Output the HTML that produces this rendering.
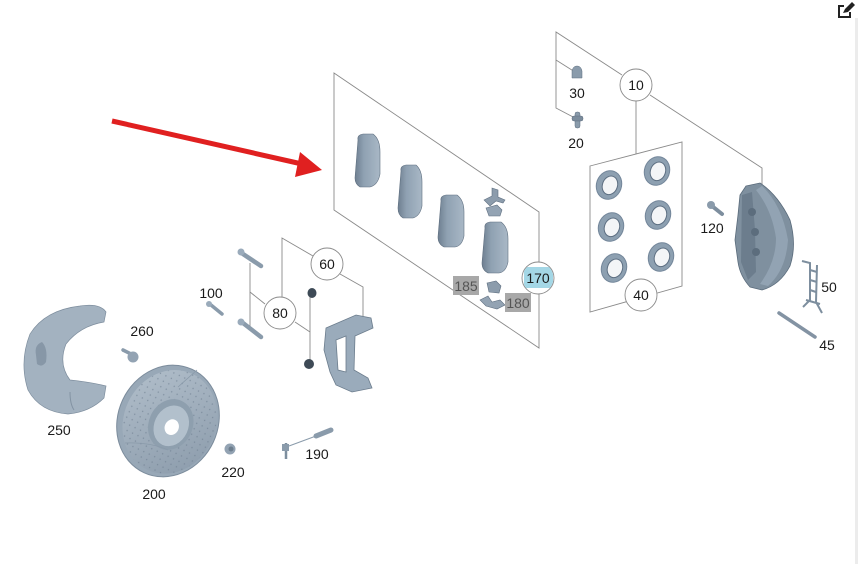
<!DOCTYPE html>
<html><head><meta charset="utf-8"><style>
html,body{margin:0;padding:0;background:#fff;}
body{width:858px;height:564px;overflow:hidden;position:relative;}
svg{position:absolute;left:0;top:0;}
text{font-family:"Liberation Sans",sans-serif;font-size:14px;fill:#1a1a1a;}
</style></head><body>
<svg width="858" height="564" viewBox="0 0 858 564" xmlns="http://www.w3.org/2000/svg">
<defs>
<linearGradient id="pg" x1="0" y1="0" x2="1" y2="0">
<stop offset="0" stop-color="#6e7f90"/><stop offset="0.35" stop-color="#8fa1b2"/><stop offset="1" stop-color="#a9b8c6"/>
</linearGradient>
<linearGradient id="dg" x1="0" y1="0" x2="1" y2="1">
<stop offset="0" stop-color="#b3c0cc"/><stop offset="1" stop-color="#8a9aaa"/>
</linearGradient>
<pattern id="dots" width="6" height="6" patternUnits="userSpaceOnUse">
<circle cx="3" cy="3" r="0.7" fill="#6f8091"/>
</pattern>
<clipPath id="c170"><circle cx="538" cy="278" r="15.5"/></clipPath>
</defs>
<rect x="855" y="18" width="3" height="546" fill="#ececec"/>

<!-- edit icon -->
<g transform="translate(836,2)" fill="none" stroke="#222" stroke-width="2">
<path d="M8,4 H3 V15 H14 V10"/>
</g>
<path d="M843,13 L845,9 L852,2 L855,5 L848,12 Z" fill="#222"/>

<!-- red arrow -->
<line x1="112" y1="121" x2="302" y2="164" stroke="#e02020" stroke-width="5"/>
<polygon points="322,170 300,152 295,177" fill="#e02020"/>

<!-- lines -->
<g fill="none" stroke="#8a8a8a" stroke-width="0.9">
<polygon points="334,73 539,212 539,348 334,210"/>
<polyline points="622,75 556,32 556,108 575,118"/>
<line x1="556" y1="60" x2="575" y2="72"/>
<line x1="636" y1="101" x2="636" y2="154"/>
<polygon points="590,166 682,142 682,286 590,312"/>
<polyline points="650,95 762,168 762,185"/>
<polyline points="282,297 282,238 313,256"/>
<polyline points="340,274 363,287 363,317"/>
<line x1="250" y1="263" x2="250" y2="330"/>
<line x1="250" y1="292" x2="265" y2="304"/>
<polyline points="295,322 310,332"/>
<line x1="310" y1="295" x2="310" y2="362"/>
</g>

<!-- pads -->
<g stroke="#5f6f80" stroke-width="0.6">
<path d="M358,140 Q357,135 363,134 L373,134 Q380,139 380,152 L380,174 Q378,185 370,187 L360,187 Q355,184 355,178 Z" fill="url(#pg)"/>
<path d="M401,171 Q400,166 406,165 L416,165 Q422,170 422,182 L422,206 Q420,216 413,218 L403,218 Q398,215 398,208 Z" fill="url(#pg)"/>
<path d="M441,201 Q440,196 446,195 L457,195 Q464,200 464,212 L464,236 Q462,246 455,247 L444,247 Q438,244 438,237 Z" fill="url(#pg)"/>
<path d="M485,228 Q484,223 490,222 L501,222 Q508,227 508,239 L508,262 Q506,272 499,273 L488,273 Q482,270 482,263 Z" fill="url(#pg)"/>
<path d="M484,200 L492,196 L492,188 L498,190 L498,197 L505,200 L503,203 L496,201 L490,206 Z" fill="#8c9cac"/>
<path d="M486,208 L497,205 L502,210 L500,216 L489,216 Z" fill="#93a3b3"/>
<path d="M487,283 L496,281 L501,286 L499,293 L489,292 Z" fill="#8c9cac"/>
<path d="M480,300 L488,296 L492,302 L500,300 L505,305 L497,309 L486,306 Z" fill="#93a3b3"/>
</g>

<!-- small parts group 10 -->
<g stroke="#5f6f80" stroke-width="0.5">
<path d="M572,78 L572,71 Q573,66 577,66 Q581,66 582,71 L582,78 Z" fill="#8a9bab"/>
<rect x="575" y="112" width="5" height="16" rx="2" fill="#8a9bab"/>
<rect x="572" y="116" width="11" height="5" rx="2" fill="#7b8c9c"/>
</g>

<!-- seals -->
<g>
<g transform="translate(609,185) rotate(20)"><ellipse rx="13" ry="15" fill="#73869a"/><ellipse rx="12" ry="14" fill="#8da0b1"/><ellipse cx="1" cy="0" rx="7.5" ry="9.5" fill="#f3f5f7" stroke="#5d6f82"/></g>
<g transform="translate(657,171) rotate(20)"><ellipse rx="13" ry="15" fill="#73869a"/><ellipse rx="12" ry="14" fill="#8da0b1"/><ellipse cx="1" cy="0" rx="7.5" ry="9.5" fill="#f3f5f7" stroke="#5d6f82"/></g>
<g transform="translate(611,227) rotate(20)"><ellipse rx="13" ry="15" fill="#73869a"/><ellipse rx="12" ry="14" fill="#8da0b1"/><ellipse cx="1" cy="0" rx="7.5" ry="9.5" fill="#f3f5f7" stroke="#5d6f82"/></g>
<g transform="translate(658,215) rotate(20)"><ellipse rx="13" ry="15" fill="#73869a"/><ellipse rx="12" ry="14" fill="#8da0b1"/><ellipse cx="1" cy="0" rx="7.5" ry="9.5" fill="#f3f5f7" stroke="#5d6f82"/></g>
<g transform="translate(614,268) rotate(20)"><ellipse rx="13" ry="15" fill="#73869a"/><ellipse rx="12" ry="14" fill="#8da0b1"/><ellipse cx="1" cy="0" rx="7.5" ry="9.5" fill="#f3f5f7" stroke="#5d6f82"/></g>
<g transform="translate(661,257) rotate(20)"><ellipse rx="13" ry="15" fill="#73869a"/><ellipse rx="12" ry="14" fill="#8da0b1"/><ellipse cx="1" cy="0" rx="7.5" ry="9.5" fill="#f3f5f7" stroke="#5d6f82"/></g>
</g>

<!-- caliper -->
<path d="M746,186 L760,183 Q778,195 790,220 Q797,245 790,266 Q780,285 762,290 L750,287 Q740,276 738,262 L735,240 L738,215 L740,195 Z" fill="#7f909f" stroke="#5a6b7b" stroke-width="0.8"/>
<path d="M762,186 Q782,205 788,240 Q786,270 768,286 L760,284 Q776,262 776,238 Q772,210 756,190 Z" fill="#92a3b3"/>
<path d="M742,195 L752,192 L755,230 L756,272 L748,280 L741,262 Z" fill="#6c7d8d"/>
<circle cx="752" cy="212" r="4" fill="#5c6d7d"/><circle cx="755" cy="232" r="4" fill="#5c6d7d"/><circle cx="756" cy="252" r="4" fill="#5c6d7d"/>
<line x1="712" y1="206" x2="722" y2="214" stroke="#7d8e9e" stroke-width="4" stroke-linecap="round"/>
<circle cx="711" cy="205" r="4" fill="#8a9bab"/>
<g stroke="#7d8e9e" stroke-width="2" fill="none">
<polyline points="802,261 810,263 810,300 803,307"/>
<polyline points="817,265 816,302 822,313"/>
<line x1="810" y1="270" x2="817" y2="272"/><line x1="810" y1="280" x2="817" y2="282"/><line x1="810" y1="290" x2="816" y2="292"/>
<line x1="806" y1="300" x2="820" y2="304"/>
</g>
<line x1="779" y1="313" x2="815" y2="337" stroke="#8393a3" stroke-width="3.5" stroke-linecap="round"/>

<!-- bolts 60/80 group -->
<g stroke-linecap="round">
<line x1="243" y1="254" x2="261" y2="266" stroke="#8a9bab" stroke-width="4.5"/>
<circle cx="241" cy="252" r="3.5" fill="#9aabbb"/>
<line x1="243" y1="323" x2="261" y2="337" stroke="#8a9bab" stroke-width="4.5"/>
<circle cx="241" cy="322" r="3.5" fill="#9aabbb"/>
<line x1="211" y1="305" x2="222" y2="314" stroke="#8a9bab" stroke-width="3.5"/>
<circle cx="209" cy="304" r="3" fill="#9aabbb"/>
</g>
<ellipse cx="312" cy="293" rx="4.5" ry="5" fill="#3e4a56"/>
<ellipse cx="309" cy="364" rx="5" ry="5" fill="#3e4a56"/>
<path fill-rule="evenodd" d="M326,328 L356,315 L371,318 L373,328 L355,336 L354,370 L368,378 L372,388 L352,392 L336,385 L330,372 L324,350 Z M336,340 L346,336 L346,372 L338,370 Z" fill="#9aabbb" stroke="#6c7d8d" stroke-width="0.8"/>
<line x1="286" y1="443" x2="286" y2="459" stroke="#7d8e9e" stroke-width="2.5"/>
<rect x="282" y="444" width="7" height="7" fill="#8a9bab"/>
<line x1="289" y1="446" x2="316" y2="436" stroke="#8a9bab" stroke-width="1"/>
<line x1="316" y1="436" x2="331" y2="430" stroke="#8a9bab" stroke-width="5" stroke-linecap="round"/>
<circle cx="230" cy="449" r="5.5" fill="#93a3b3"/>
<circle cx="231" cy="449" r="2.5" fill="#6d7e8e"/>
<line x1="123" y1="350" x2="133" y2="355" stroke="#8a9bab" stroke-width="3.5" stroke-linecap="round"/>
<circle cx="133" cy="357" r="5.5" fill="#93a3b3"/>

<!-- backing plate 250 -->
<path d="M80,306 Q100,303 106,312 L104,322 Q80,326 66,344 Q58,364 70,380 Q90,382 106,386 L104,398 Q90,412 68,414 Q40,412 28,390 Q19,362 30,334 Q45,310 80,306 Z" fill="#a3b2c0" stroke="#7e8e9e" stroke-width="0.7"/>
<path d="M36,355 Q34,345 42,342 Q48,348 46,362 Q42,368 37,364 Z" fill="#8797a7"/>
<path d="M70,392 Q70,404 74,410" stroke="#8393a3" fill="none"/>

<!-- disc 200 -->
<g transform="rotate(25 168 421)">
<ellipse cx="168" cy="421" rx="50" ry="57" fill="#98a8b7" stroke="#7c8c9c"/>
<ellipse cx="170" cy="421" rx="46" ry="53" fill="url(#dg)"/>
<ellipse cx="170" cy="421" rx="46" ry="53" fill="url(#dots)" opacity="0.7"/>
<ellipse cx="172" cy="423" rx="22" ry="26" fill="#8e9fae"/>
<ellipse cx="173" cy="424" rx="17" ry="21" fill="#b2c0cc"/>
<ellipse cx="174" cy="425" rx="7" ry="8" fill="#fff"/>
</g>
<path d="M125,443 Q150,442 168,450" stroke="#8a9aaa" fill="none" stroke-width="0.8"/>
<path d="M178,387 L197,370" stroke="#8a9aaa" fill="none" stroke-width="0.8"/>

<!-- circles -->
<g fill="#fff" stroke="#8a8a8a" stroke-width="0.9">
<circle cx="636" cy="85" r="16"/>
<circle cx="641" cy="295" r="16"/>
<circle cx="327" cy="264" r="16"/>
<circle cx="280" cy="313" r="16"/>
<circle cx="538" cy="278" r="16"/>
</g>
<rect x="524" y="267" width="29" height="21" fill="#a4d7e6" clip-path="url(#c170)"/>
<rect x="453" y="276" width="26" height="19" fill="#a8a8a8"/>
<rect x="505" y="293" width="26" height="19" fill="#a8a8a8"/>

<g text-anchor="middle">
<text x="636" y="90">10</text>
<text x="641" y="300">40</text>
<text x="327" y="269">60</text>
<text x="280" y="318">80</text>
<text x="538" y="283">170</text>
<text x="466" y="291" style="fill:#555">185</text>
<text x="518" y="308" style="fill:#555">180</text>
<text x="577" y="98">30</text>
<text x="576" y="148">20</text>
<text x="712" y="233">120</text>
<text x="829" y="292">50</text>
<text x="827" y="350">45</text>
<text x="211" y="298">100</text>
<text x="142" y="336">260</text>
<text x="59" y="435">250</text>
<text x="154" y="499">200</text>
<text x="233" y="477">220</text>
<text x="317" y="459">190</text>
</g>
</svg>
</body></html>
